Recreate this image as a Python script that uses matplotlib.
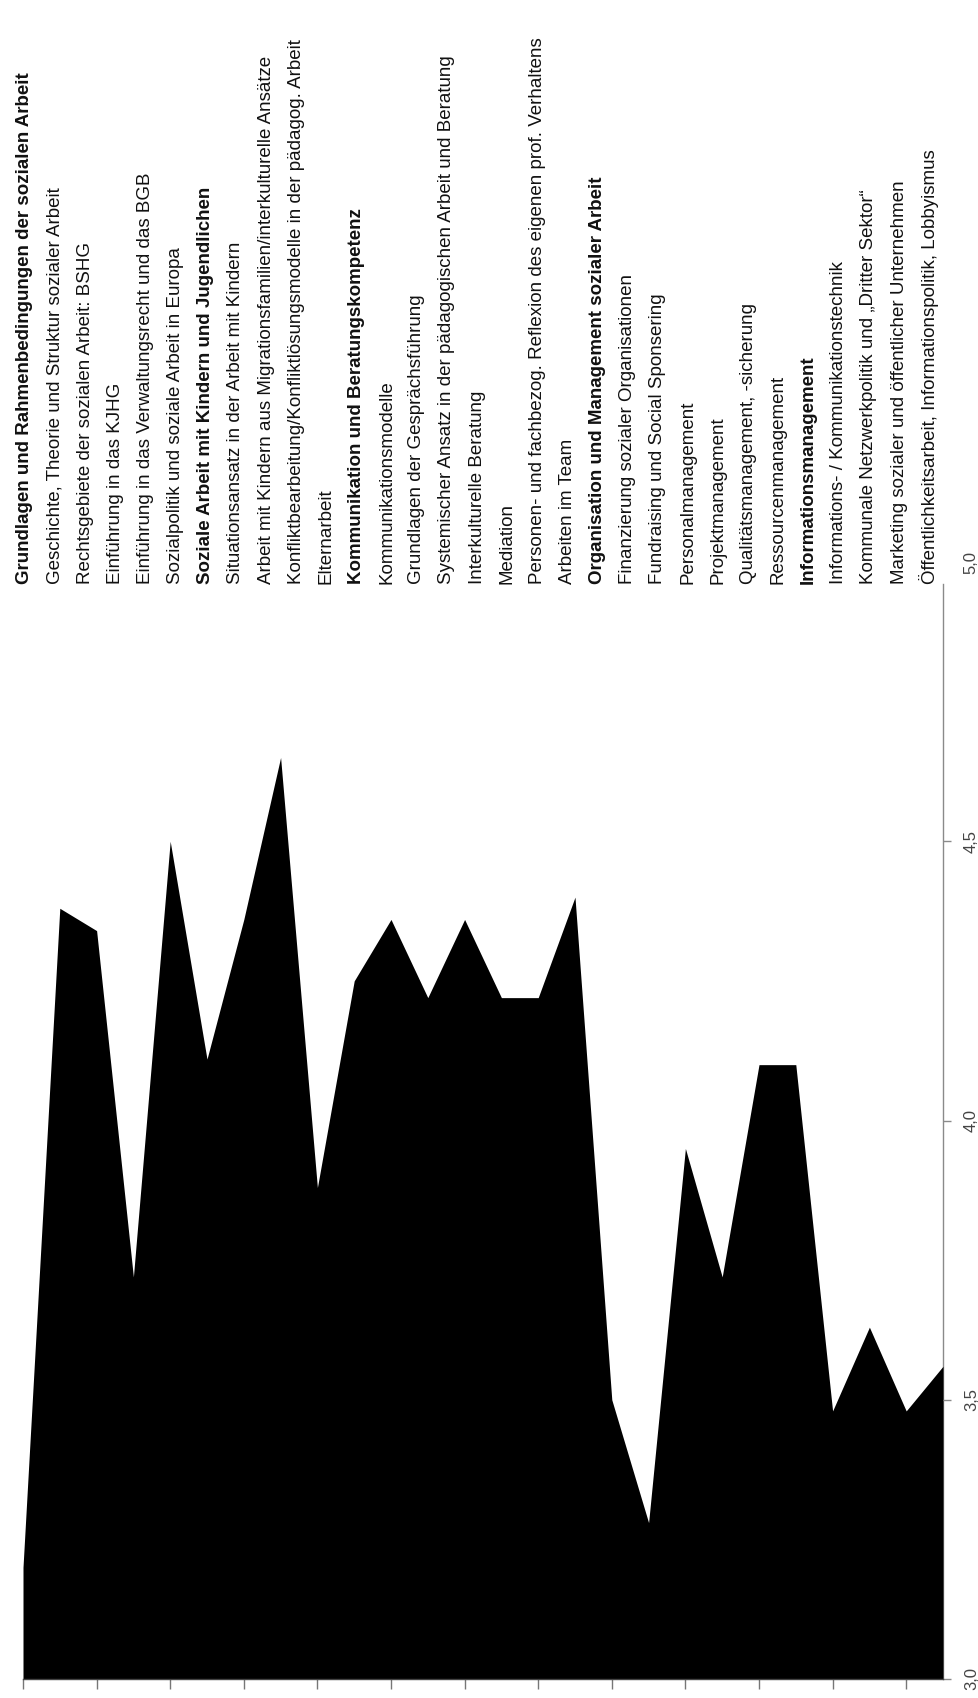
import numpy as np
import matplotlib
matplotlib.use("Agg")
import matplotlib.pyplot as plt
import matplotlib.transforms as mtransforms

# ---------------- data ----------------
labels = [
    "Grundlagen und Rahmenbedingungen der sozialen Arbeit",
    "Geschichte, Theorie und Struktur sozialer Arbeit",
    "Rechtsgebiete der sozialen Arbeit: BSHG",
    "Einführung in das KJHG",
    "Einführung in das Verwaltungsrecht und das BGB",
    "Sozialpolitik und soziale Arbeit in Europa",
    "Soziale Arbeit mit Kindern und Jugendlichen",
    "Situationsansatz in der Arbeit mit Kindern",
    "Arbeit mit Kindern aus Migrationsfamilien/interkulturelle Ansätze",
    "Konfliktbearbeitung/Konfliktlösungsmodelle in der pädagog. Arbeit",
    "Elternarbeit",
    "Kommunikation und Beratungskompetenz",
    "Kommunikationsmodelle",
    "Grundlagen der Gesprächsführung",
    "Systemischer Ansatz in der pädagogischen Arbeit und Beratung",
    "Interkulturelle Beratung",
    "Mediation",
    "Personen- und fachbezog. Reflexion des eigenen prof. Verhaltens",
    "Arbeiten im Team",
    "Organisation und Management sozialer Arbeit",
    "Finanzierung sozialer Organisationen",
    "Fundraising und Social Sponsering",
    "Personalmanagement",
    "Projektmanagement",
    "Qualitätsmanagement, -sicherung",
    "Ressourcenmanagement",
    "Informationsmanagement",
    "Informations- / Kommunikationstechnik",
    "Kommunale Netzwerkpolitik und \u201eDritter Sektor\u201c",
    "Marketing sozialer und öffentlicher Unternehmen",
    "Öffentlichkeitsarbeit, Informationspolitik, Lobbyismus",
]
headings = [0, 6, 11, 19, 26]

values = [3.20, 4.38, 4.34, 3.72, 4.50, 4.11, 4.36, 4.65, 3.88, 4.25,
          4.36, 4.22, 4.36, 4.22, 4.22, 4.40, 3.50, 3.28, 3.95, 3.72,
          4.10, 4.10, 3.48, 3.63, 3.48, 3.56]

value_ticks = [3.0, 3.5, 4.0, 4.5, 5.0]
value_tick_labels = ["3,0", "3,5", "4,0", "4,5", "5,0"]

# ---------------- figure ----------------
W, H = 979, 1698
fig = plt.figure(figsize=(W / 100, H / 100), dpi=100)
fig.patch.set_facecolor("white")

x0, x1 = 23, 943          # pixel span of the category axis
y3, y5 = 1679, 562        # pixel rows of 3.0 and 5.0
ax = fig.add_axes([x0 / W, (H - y3) / H, (x1 - x0) / W, (y3 - y5) / H])

xs = np.arange(len(values))
ax.fill_between(xs, 3.0, values, color="black", linewidth=0)
ax.set_xlim(0, len(values) - 1)
ax.set_ylim(3.0, 5.0)

for s in ["left", "top"]:
    ax.spines[s].set_visible(False)
ax.spines["bottom"].set_color("#444444")
ax.spines["bottom"].set_linewidth(1.0)
ax.spines["right"].set_color("#8a8a8a")
ax.spines["right"].set_linewidth(1.0)
ax.spines["right"].set_bounds(3.0, 4.96)
ax.spines["right"].set_zorder(0)

ax.set_xticks(xs[::2])
ax.set_xticklabels([])
ax.tick_params(axis="x", direction="out", length=7, width=1, color="#777777")

ax.yaxis.tick_right()
ax.set_yticks(value_ticks)
ax.set_yticklabels(value_tick_labels, rotation=90, va="center",
                   fontsize=12, color="#444444", family="Liberation Sans")
ax.tick_params(axis="y", direction="out", length=6, width=1,
               color="#8a8a8a", pad=9)
ax.yaxis.get_major_ticks()[-1].tick2line.set_visible(False)

# category labels (rotated text block)
trans = mtransforms.blended_transform_factory(ax.transAxes, ax.transData)
label_x = np.linspace(0.002, 0.985, len(labels))
for i, (lx, txt) in enumerate(zip(label_x, labels)):
    ax.text(lx, 4.96, txt, rotation=90, ha="center", va="bottom",
            transform=trans, fontsize=13.5, color="#111111",
            family="Liberation Sans",
            fontweight="bold" if i in headings else "normal",
            clip_on=False)

fig.savefig("out.png", dpi=100, facecolor="white")
